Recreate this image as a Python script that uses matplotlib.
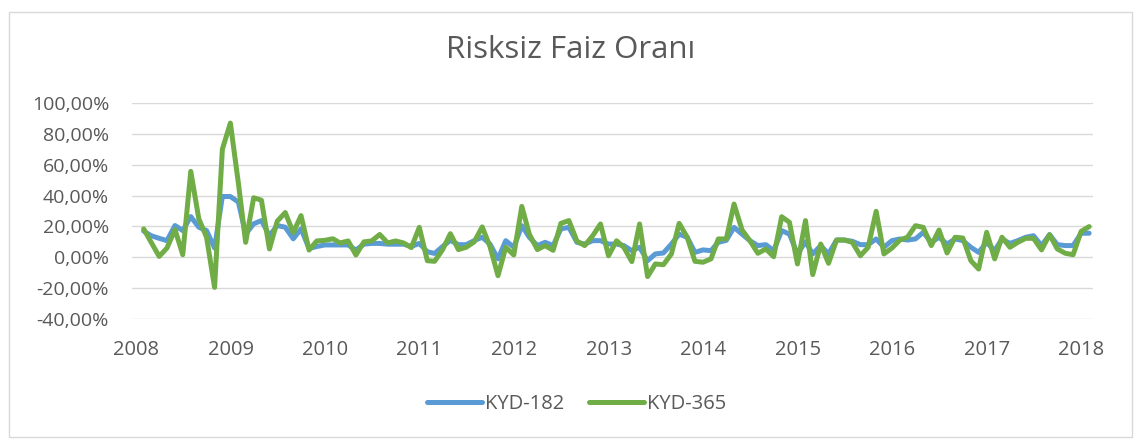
import pandas as pd
import matplotlib.pyplot as plt
import matplotlib.dates as mdates
from matplotlib.ticker import FuncFormatter
from matplotlib.patches import Rectangle

# Aylik veriler (Ocak 2008 - Ocak 2018), yuzde olarak
tarihler = pd.date_range('2008-01-31', periods=121, freq='ME')

kyd_182 = [17, 14, 12.3, 10.8, 20.6, 17.3, 26.4, 19.5, 17.3, 6,
           39.4, 39.4, 35.8, 15, 21.7, 23.8, 14, 20.6, 19.5, 12,
           18.4, 5.7, 7, 8, 8, 8, 8, 4.7, 8.5, 9,
           9, 8.5, 8.5, 8.5, 7, 9, 3.6, 2.5, 7, 11,
           8.2, 8.2, 10.8, 13, 8.6, -1, 10.8, 6.5, 20.5, 13,
           7.6, 9.7, 7.6, 18.4, 19.4, 9.7, 8.6, 10.8, 10.8, 8.6,
           8.6, 7.6, 4.3, 6.5, -2.2, 2.2, 2.8, 8.6, 15, 13,
           3.2, 4.8, 4.3, 9.7, 11, 19.4, 15, 10.8, 7.6, 8.2,
           4.3, 17.3, 15, 2.2, 10, 2.2, 7.6, 2.2, 11.2, 11.2,
           10.4, 8.2, 8.2, 11.9, 6.5, 10.8, 11.9, 11.2, 11.9, 16.2,
           9.7, 13, 8.6, 11.9, 10.8, 6.5, 3.2, 9.7, 4.3, 11.9,
           9, 10.8, 13, 14, 7.6, 14.7, 8.2, 7.6, 7.6, 15.6,
           15.6]

kyd_365 = [18.4, 9.7, 0.6, 6, 18, 1.7, 55.7, 25, 13, -19.5,
           70, 87, 48, 9.7, 38.6, 37, 5.4, 23.4, 29, 16,
           27, 4.7, 10.6, 11, 12, 9.3, 10.6, 1.5, 10, 10.6,
           14.8, 9.3, 10.6, 9.3, 6.3, 19.4, -2.2, -2.6, 5, 15.3,
           5, 6.5, 10, 19.7, 7, -11.9, 6.5, 1.5, 33, 15,
           5, 7.6, 4.5, 22, 23.8, 10.5, 7.6, 14, 21.6, 1,
           10.7, 6.5, -2.8, 21.6, -12.5, -4.3, -4.8, 2.2, 22, 13,
           -2.6, -3.2, -1, 11.9, 11.9, 34.5, 17.7, 10.8, 2.6, 5.4,
           0.4, 26.3, 22.7, -4.3, 23.8, -11.2, 8.6, -3.9, 11.2, 11.2,
           9.7, 1, 6.5, 29.8, 2.2, 6, 11.2, 13, 20.5, 19.4,
           7.6, 17.7, 2.8, 13, 12.5, -2.2, -7.6, 16.2, -1, 13,
           6.5, 9.7, 12.3, 12.3, 4.8, 14.7, 5.4, 2.6, 1.7, 16.8,
           19.9]

yazi_rengi = '#595959'
plt.rcParams['font.family'] = ['Open Sans', 'DejaVu Sans']

fig = plt.figure(figsize=(11.42, 4.41), dpi=100)
ax = fig.add_axes([0.1156, 0.2766, 0.8413, 0.4898])

ax.plot(tarihler, kyd_182, color='#5B9BD5', linewidth=3.6, label='KYD-182',
        solid_joinstyle='round', solid_capstyle='round')
ax.plot(tarihler, kyd_365, color='#70AD47', linewidth=3.6, label='KYD-365',
        solid_joinstyle='round', solid_capstyle='round')

ax.set_ylim(-40, 100)
ax.set_yticks(range(-40, 101, 20))
ax.yaxis.set_major_formatter(FuncFormatter(lambda v, p: f'{v:.2f}%'.replace('.', ',')))
ax.set_xlim(pd.Timestamp('2007-12-17'), pd.Timestamp('2018-02-14'))
ax.xaxis.set_major_locator(mdates.YearLocator())
ax.xaxis.set_major_formatter(mdates.DateFormatter('%Y'))

ax.grid(axis='y', color='#D9D9D9', linewidth=1)
ax.set_axisbelow(True)
for s in ax.spines.values():
    s.set_visible(False)
ax.tick_params(length=0, colors=yazi_rengi)
ax.tick_params(axis='y', labelsize=14, pad=16.5)
ax.tick_params(axis='x', labelsize=14.5, pad=15)

fig.text(0.5, 1 - 50 / 441, 'Risksiz Faiz Oranı', ha='center', va='center',
         fontsize=22.5, color=yazi_rengi)

fig.legend(loc='center', bbox_to_anchor=(0.505, 1 - 404 / 441), ncol=2,
           frameon=False, fontsize=14.5, handlelength=2.75, columnspacing=1.2,
           handletextpad=0.15, labelcolor=yazi_rengi)

# Grafik cercevesi
fig.patches.append(Rectangle((9 / 1142, 4 / 441), 1123 / 1142, 425 / 441,
                             transform=fig.transFigure, fill=False,
                             edgecolor='#D9D9D9', linewidth=1))

plt.savefig('out.png', dpi=100)
